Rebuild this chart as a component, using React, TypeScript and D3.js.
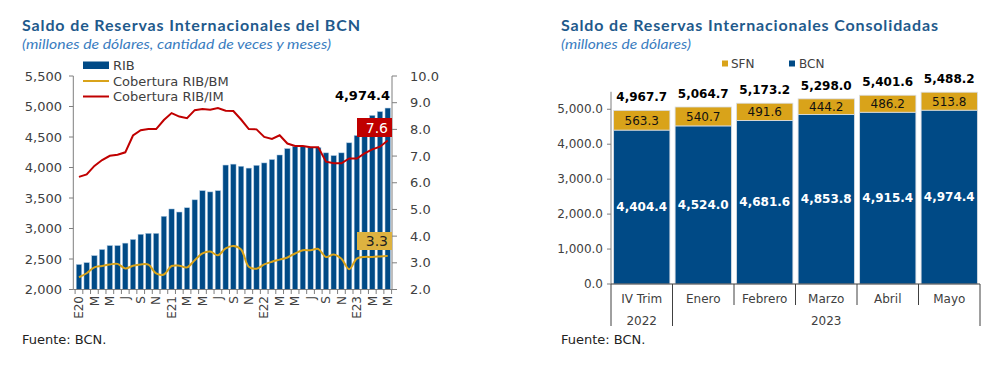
import React from 'react';
import * as d3 from 'd3';

// ---- left chart data (monthly, Jan 2020 - May 2023)
const monthLabels = [
  'E20', 'F', 'M', 'A', 'M', 'J', 'J', 'A', 'S', 'O', 'N', 'D',
  'E21', 'F', 'M', 'A', 'M', 'J', 'J', 'A', 'S', 'O', 'N', 'D',
  'E22', 'F', 'M', 'A', 'M', 'J', 'J', 'A', 'S', 'O', 'N', 'D',
  'E23', 'F', 'M', 'A', 'M',
];
const rib = [
  2410, 2440, 2555, 2655, 2720, 2720, 2760, 2820, 2905, 2920, 2920, 3200,
  3320, 3270, 3340, 3470, 3620, 3600, 3620, 4040, 4055, 4020, 3990, 4035,
  4075, 4130, 4205, 4310, 4345, 4345, 4330, 4325, 4240, 4195, 4240, 4404.4,
  4524.0, 4681.6, 4853.8, 4915.4, 4974.4,
];
const ribBM = [
  2.46, 2.61, 2.83, 2.88, 2.94, 2.96, 2.79, 2.89, 2.94, 2.93, 2.6, 2.56,
  2.88, 2.89, 2.83, 3.1, 3.35, 3.42, 3.28, 3.54, 3.63, 3.5, 2.85, 2.78,
  2.94, 3.04, 3.12, 3.2, 3.35, 3.47, 3.47, 3.52, 3.22, 3.31, 3.15, 2.76,
  3.16, 3.22, 3.22, 3.24, 3.26,
];
const ribIM = [
  6.22, 6.31, 6.63, 6.85, 7.01, 7.05, 7.14, 7.77, 7.97, 8.01, 8.01, 8.35,
  8.61, 8.48, 8.42, 8.72, 8.76, 8.74, 8.8, 8.7, 8.69, 8.37, 8.01, 8.0,
  7.72, 7.64, 7.78, 7.47, 7.38, 7.38, 7.33, 7.33, 6.79, 6.73, 6.73, 6.91,
  6.91, 7.1, 7.25, 7.35, 7.58,
];
const leftTicks = [2000, 2500, 3000, 3500, 4000, 4500, 5000, 5500];
const rightTicks = [2, 3, 4, 5, 6, 7, 8, 9, 10];

// ---- right chart data
const cats = ['IV Trim', 'Enero', 'Febrero', 'Marzo', 'Abril', 'Mayo'];
const bcn = [4404.4, 4524.0, 4681.6, 4853.8, 4915.4, 4974.4];
const sfn = [563.3, 540.7, 491.6, 444.2, 486.2, 513.8];
const yearLabels = ['2022', '2023'];
const yearSpans = [1, 5];
const consTicks = [0, 1000, 2000, 3000, 4000, 5000];

const BLUE = '#004a86';
const GOLD = '#d9a31a';
const RED = '#c00000';
const AXIS = '#7f7f7f';
const TXT = '#404040';
const FONT = 'DejaVu Sans, Verdana, sans-serif';
const TITLE_C = '#1f5a8c';
const SUB_C = '#3a7dbf';

const fmt1 = d3.format(',.1f');
const fmt0 = d3.format(',');

function LeftChart() {
  const x = d3.scaleBand<number>().domain(d3.range(rib.length)).range([75.1, 391.6])
    .paddingInner(0.3).paddingOuter(0.15);
  const y = d3.scaleLinear().domain([2000, 5500]).range([289.5, 76]);
  const y2 = d3.scaleLinear().domain([2, 10]).range([289.5, 76]);
  const cx = (i: number) => (x(i) as number) + x.bandwidth() / 2;
  const step = x.step();
  const x0 = x.range()[0];
  const bmLine = d3.line<number>().x((_, i) => cx(i)).y(d => y2(d)).curve(d3.curveCatmullRom.alpha(0.5));
  const imLine = d3.line<number>().x((_, i) => cx(i)).y(d => y2(d));
  const last = rib.length - 1;

  return (
    <g fontFamily={FONT}>
      <text x={22} y={31} fontFamily="Lato, sans-serif" fontWeight="bold" fontSize={16} fill={TITLE_C}
        textLength={338} lengthAdjust="spacing">Saldo de Reservas Internacionales del BCN</text>
      <text x={22} y={49} fontFamily="Lato, sans-serif" fontStyle="italic" fontSize={14} fill={SUB_C}
        textLength={309} lengthAdjust="spacingAndGlyphs">(millones de dólares, cantidad de veces y meses)</text>

      {rib.map((v, i) => (
        <rect key={i} x={x(i)} y={y(v)} width={x.bandwidth()} height={y(2000) - y(v)}
          fill={BLUE} stroke="#a9c6e0" strokeWidth={0.5} />
      ))}
      <path d={bmLine(ribBM) || ''} fill="none" stroke={GOLD} strokeWidth={2} />
      <path d={imLine(ribIM) || ''} fill="none" stroke={RED} strokeWidth={2} />

      {/* left axis */}
      <line x1={73.3} x2={73.3} y1={76} y2={289.5} stroke={AXIS} />
      {leftTicks.map(t => (
        <g key={t}>
          <line x1={69} x2={73.3} y1={y(t)} y2={y(t)} stroke={AXIS} />
          <text x={62} y={y(t)} dy="0.35em" textAnchor="end" fontSize={13} fill={TXT}>{fmt0(t)}</text>
        </g>
      ))}
      {/* right axis */}
      <line x1={392} x2={392} y1={76} y2={289.5} stroke={AXIS} />
      {rightTicks.map(t => (
        <g key={t}>
          <line x1={392} x2={397} y1={y2(t)} y2={y2(t)} stroke={AXIS} />
          <text x={410} y={y2(t)} dy="0.35em" fontSize={13} fill={TXT}>{t.toFixed(1)}</text>
        </g>
      ))}
      {/* bottom axis */}
      <line x1={73.3} x2={392} y1={289.5} y2={289.5} stroke={AXIS} />
      {d3.range(rib.length + 1).map(i => (
        <line key={i} x1={x0 + i * step} x2={x0 + i * step} y1={289.5} y2={294} stroke={AXIS} />
      ))}
      {monthLabels.map((m, i) => i % 2 === 0 ? (
        <text key={i} transform={`translate(${cx(i)},296) rotate(-90)`} dy="0.35em" textAnchor="end"
          fontSize={12} fill={TXT}>{m}</text>
      ) : null)}

      {/* legend */}
      <rect x={83} y={61.5} width={26} height={7.5} fill={BLUE} />
      <text x={113} y={65.5} dy="0.35em" fontSize={13} fill={TXT}>RIB</text>
      <line x1={83} x2={109} y1={81} y2={81} stroke={GOLD} strokeWidth={2} />
      <text x={113} y={81} dy="0.35em" fontSize={13} fill={TXT}>Cobertura RIB/BM</text>
      <line x1={83} x2={109} y1={96.5} y2={96.5} stroke={RED} strokeWidth={2} />
      <text x={113} y={96.5} dy="0.35em" fontSize={13} fill={TXT}>Cobertura RIB/IM</text>

      {/* data labels */}
      <text x={390} y={99.5} textAnchor="end" fontSize={13} fontWeight="bold" fill="#000">{fmt1(rib[last])}</text>
      <rect x={357} y={118} width={35} height={19} fill={RED} />
      <text x={388} y={127.5} dy="0.36em" textAnchor="end" fontSize={14} fill="#fff">{ribIM[last].toFixed(1)}</text>
      <rect x={357} y={232} width={35} height={18} fill="#ddb240" />
      <text x={388} y={241} dy="0.36em" textAnchor="end" fontSize={14} fill="#222">{ribBM[last].toFixed(1)}</text>

      <text x={22} y={344} fontSize={13} fill="#222">Fuente: BCN.</text>
    </g>
  );
}

function RightChart() {
  const x = d3.scaleBand<string>().domain(cats).range([611, 980]).paddingInner(0.085).paddingOuter(0.0425);
  const y = d3.scaleLinear().domain([0, 5500]).range([284, 91.8]);
  const step = x.step();
  const x0 = x.range()[0];
  const yearStarts = yearSpans.map((_, i) => d3.sum(yearSpans.slice(0, i)));

  return (
    <g fontFamily={FONT}>
      <text x={561} y={31} fontFamily="Lato, sans-serif" fontWeight="bold" fontSize={16} fill={TITLE_C}
        textLength={377} lengthAdjust="spacing">Saldo de Reservas Internacionales Consolidadas</text>
      <text x={561} y={49} fontFamily="Lato, sans-serif" fontStyle="italic" fontSize={14} fill={SUB_C}
        textLength={130} lengthAdjust="spacingAndGlyphs">(millones de dólares)</text>

      {/* legend */}
      <rect x={722} y={60.5} width={6} height={6} fill={GOLD} />
      <text x={731} y={64} dy="0.35em" fontSize={12} fill={TXT}>SFN</text>
      <rect x={789} y={60.5} width={6} height={6} fill={BLUE} />
      <text x={799} y={64} dy="0.35em" fontSize={12} fill={TXT}>BCN</text>

      {cats.map((c, i) => {
        const bx = x(c) as number;
        const w = x.bandwidth();
        const tot = bcn[i] + sfn[i];
        return (
          <g key={c}>
            <rect x={bx} y={y(bcn[i])} width={w} height={y(0) - y(bcn[i])} fill={BLUE} stroke="#d9dde3" strokeWidth={0.8} />
            <rect x={bx} y={y(tot)} width={w} height={y(bcn[i]) - y(tot)} fill={GOLD} stroke="#d9dde3" strokeWidth={0.8} />
            <text x={bx + w / 2} y={y(bcn[i] / 2)} dy="0.35em" textAnchor="middle" fontSize={12}
              fontWeight="bold" fill="#fff">{fmt1(bcn[i])}</text>
            <text x={bx + w / 2} y={y(bcn[i] + sfn[i] / 2)} dy="0.36em" textAnchor="middle" fontSize={12}
              fill="#111">{fmt1(sfn[i])}</text>
            <text x={bx + w / 2} y={y(tot) - 9} textAnchor="middle" fontSize={12} fontWeight="bold"
              fill="#000">{fmt1(tot)}</text>
            <text x={bx + w / 2} y={303} textAnchor="middle" fontSize={12} fill={TXT}>{c}</text>
          </g>
        );
      })}

      {/* axes */}
      <line x1={611} x2={611} y1={y(5500)} y2={284} stroke={AXIS} />
      {consTicks.map(t => (
        <g key={t}>
          <line x1={607} x2={611} y1={y(t)} y2={y(t)} stroke={AXIS} />
          <text x={603} y={y(t)} dy="0.35em" textAnchor="end" fontSize={12} fill={TXT}>{fmt1(t)}</text>
        </g>
      ))}
      <line x1={611} x2={980} y1={284} y2={284} stroke="#404040" />
      {d3.range(cats.length + 1).map(i => {
        const isYear = i === cats.length || yearStarts.includes(i);
        return (
          <line key={i} x1={x0 + i * step} x2={x0 + i * step} y1={284} y2={isYear ? 326 : 305} stroke="#404040" />
        );
      })}
      {yearLabels.map((yl, i) => (
        <text key={yl} x={x0 + (yearStarts[i] + yearSpans[i] / 2) * step} y={325} textAnchor="middle"
          fontSize={12} fill={TXT}>{yl}</text>
      ))}

      <text x={561} y={344} fontSize={13} fill="#222">Fuente: BCN.</text>
    </g>
  );
}

export default function App() {
  return (
    <svg width={1003} height={373} style={{ position: 'absolute', left: 0, top: 0, background: '#fff' }}>
      <rect width={1003} height={373} fill="#fff" />
      <LeftChart />
      <RightChart />
    </svg>
  );
}
